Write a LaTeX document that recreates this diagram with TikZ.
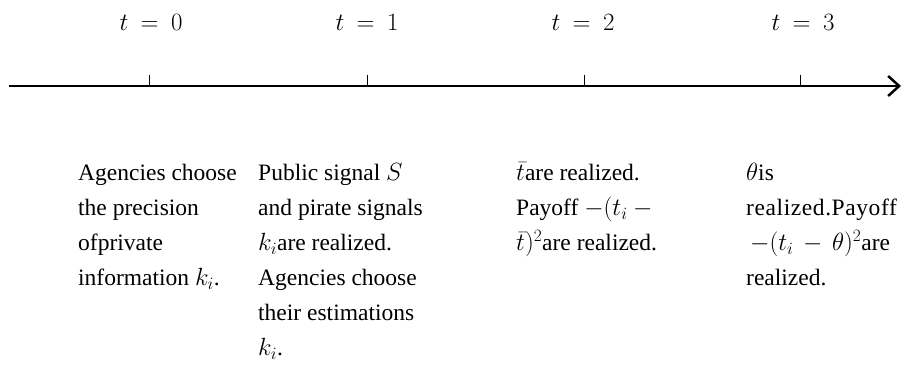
\documentclass[tikz,border=0pt]{standalone}
\usepackage{fontspec}
\setmainfont{Liberation Serif}
\usetikzlibrary{arrows.meta}
\begin{document}
\begin{tikzpicture}[x=1pt,y=-1pt,
  lbl/.style={anchor=base,inner sep=0pt,font=\fontsize{24}{35}\selectfont},
  col/.style={anchor=north west,inner sep=0pt,align=left,font=\fontsize{23.5}{35}\selectfont},
  tickmark/.style={line width=1pt},
  axis/.style={line width=2.5pt,-{Straight Barb[length=11pt,width=20pt]}}]
\useasboundingbox (0,0) rectangle (903,383);
\coordinate (a0) at (9,86);
\coordinate (a1) at (901,86);
\draw[axis] (a0) -- (a1);
\foreach \n/\x in {0/149,1/367,2/584,3/800}{
  \coordinate (tk\n) at (\x,86);
  \coordinate (tt\n) at (\x,75);
  \draw[tickmark] (tk\n) -- (tt\n);
}
\node[lbl] (l0) at (151,30) {$t\mskip4mu=\mskip4mu0$};
\node[lbl] (l1) at (367,30) {$t\mskip4mu=\mskip4mu1$};
\node[lbl] (l2) at (583,30) {$t\mskip4mu=\mskip4mu2$};
\node[lbl] (l3) at (803,30) {$t\mskip4mu=\mskip4mu3$};
\node[col] (c0) at (78,156) {\strut Agencies choose\\the precision\\ofprivate\\information $k_i$.};
\node[col] (c1) at (258,156) {\strut Public signal $S$\\and pirate signals\\$k_i$are realized.\\Agencies choose\\their estimations\\$k_i$.};
\node[col] (c2) at (516,156) {\strut$\bar{t}$are realized.\\Payoff $-(t_i-{}$\\$\bar{t})^2$are realized.};
\node[col] (c3) at (746,156) {\strut$\theta$is\\{\addfontfeature{LetterSpace=2.5}realized.Payoff}\\\hspace*{4pt}$-(t_i\,-\,\theta)^2$are\\realized.};
\end{tikzpicture}
\end{document}
